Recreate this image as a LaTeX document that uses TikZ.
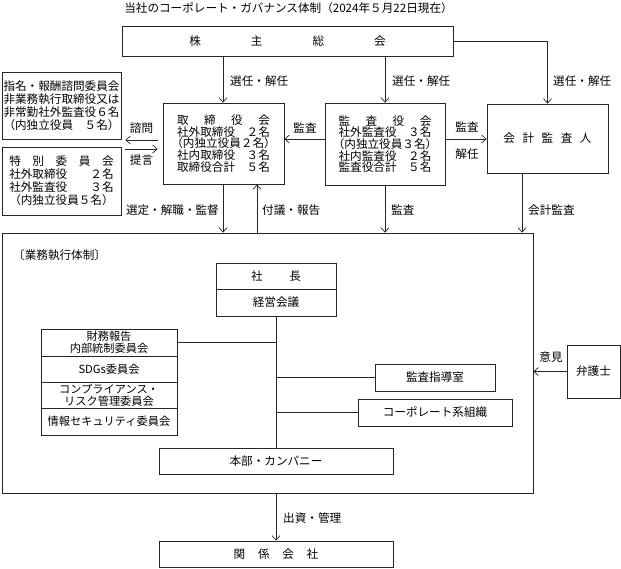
\documentclass[tikz,border=0pt]{standalone}
\usepackage{fontspec}
\setmainfont{Noto Sans CJK JP}
\usetikzlibrary{arrows.meta,calc}
\begin{document}
\begin{tikzpicture}[x=1pt,y=-1pt,
  font=\fontsize{11.6}{13}\selectfont,
  box/.style={draw=black!85, line width=0.7pt, rectangle, inner sep=0pt, align=center},
  lbl/.style={inner sep=0pt},
  arr/.style={draw=black!85, -{Straight Barb[length=4.5pt,width=8pt]}, line width=0.7pt},
  ln/.style={draw=black!85, line width=0.7pt}]
\useasboundingbox (0,0) rectangle (621,568);

\node[lbl] (title) at (288.5,8) {当社のコーポレート・ガバナンス体制（2024年５月22日現在）};

\node[box, minimum width=331pt, minimum height=30pt] (soukai) at (287.5,41)
  {株\hspace{50pt}主\hspace{50pt}総\hspace{50pt}会};

\node[box, minimum width=119pt, minimum height=67pt] (nom) at (61.5,105.5)
  {指名・報酬諮問委員会\\非業務執行取締役又は\\非常勤社外監査役６名\\\makebox[10em]{（内独立役員\hfill{}５名）}};

\node[box, minimum width=119pt, minimum height=68pt] (tok) at (61.5,181)
  {特\hspace{1em}別\hspace{1em}委\hspace{1em}員\hspace{1em}会\\\makebox[9em]{社外取締役\hfill{}２名}\\\makebox[9em]{社外監査役\hfill{}３名}\\（内独立役員５名）};

\node[box, minimum width=121pt, minimum height=81pt, font=\fontsize{11.6}{11.6}\selectfont] (board) at (223.5,143.5)
  {\makebox[8em]{取\hfill{}締\hfill{}役\hfill{}会}\\\makebox[8em]{社外取締役\hfill{}２名}\\\makebox[8em]{（内独立役員２名）}\\\makebox[8em]{社内取締役\hfill{}３名}\\\makebox[8em]{取締役合計\hfill{}５名}};

\node[box, minimum width=120pt, minimum height=82pt, font=\fontsize{11.6}{11.6}\selectfont] (audit) at (385,144)
  {\makebox[8em]{監\hfill{}査\hfill{}役\hfill{}会}\\\makebox[8em]{社外監査役\hfill{}３名}\\\makebox[8em]{（内独立役員３名）}\\\makebox[8em]{社内監査役\hfill{}２名}\\\makebox[8em]{監査役合計\hfill{}５名}};

\node[box, minimum width=121pt, minimum height=69pt] (kaikei) at (547.5,138.5)
  {会\hspace{0.65em}計\hspace{0.65em}監\hspace{0.65em}査\hspace{0.65em}人};

\node[box, minimum width=531pt, minimum height=260pt] (exec) at (267.5,363) {};
\node[lbl, anchor=west] (exlabel) at (13,255) {〔業務執行体制〕};

\node[box, minimum width=120pt, minimum height=26pt] (shacho) at (276,276) {社\hspace{2.3em}長};
\node[box, minimum width=120pt, minimum height=27pt] (keiei) at (276,302.5) {経営会議};

\begin{scope}[every node/.append style={font=\fontsize{11.2}{12}\selectfont}]
\node[box, minimum width=136pt, minimum height=27pt] (c1) at (109,342.5) {財務報告\\内部統制委員会};
\node[box, minimum width=136pt, minimum height=26pt] (c2) at (109,369) {SDGs委員会};
\node[box, minimum width=136pt, minimum height=26pt] (c3) at (109,395) {コンプライアンス・\\リスク管理委員会};
\node[box, minimum width=136pt, minimum height=27pt] (c4) at (109,421.5) {情報セキュリティ委員会};
\end{scope}

\node[box, minimum width=120pt, minimum height=27pt] (shido) at (435,377.5) {監査指導室};
\node[box, minimum width=154pt, minimum height=27pt] (corp) at (435,412.5) {コーポレート系組織};
\node[box, minimum width=53pt, minimum height=53pt] (bengo) at (593.5,371.5) {弁護士};
\node[box, minimum width=234pt, minimum height=26pt] (honbu) at (276,461) {本部・カンパニー};
\node[box, minimum width=234pt, minimum height=26pt] (kankei) at (276,554)
  {関\hspace{1.1em}係\hspace{1.1em}会\hspace{1.1em}社};

% connectors from shareholders
\draw[arr] (soukai.south -| 223,0) -- (board.north -| 223,0);
\draw[arr] (soukai.south -| audit.north) -- (audit.north);
\draw[arr] (soukai.east) -- (soukai.east -| kaikei.north) -- (kaikei.north);
\node[lbl, anchor=west] (l1) at (230,81) {選任・解任};
\node[lbl, anchor=west] (l2) at (392,81) {選任・解任};
\node[lbl, anchor=west] (l3) at (553,81) {選任・解任};

% committees <-> board
\draw[arr, shorten <=5pt, shorten >=4pt] (board.west |- 0,140) -- (nom.east |- 0,140);
\draw[arr, shorten <=4pt, shorten >=5pt] (nom.east |- 0,149) -- (board.west |- 0,149);
\node[lbl] (l4) at (141.5,128) {諮問};
\node[lbl] (l5) at (141.5,160) {提言};

% audit connectors
\draw[arr] (audit.west |- 0,139) -- (board.east |- 0,139);
\node[lbl] (l6) at (305,128) {監査};
\draw[arr] (audit.east |- 0,139) -- (kaikei.west |- 0,139);
\node[lbl] (l7) at (467,127) {監査};
\node[lbl] (l8) at (467,154) {解任};

% to executive system
\draw[arr] (board.south -| 223,0) -- (exec.north -| 223,0);
\draw[arr] (exec.north -| 257,0) -- (board.south -| 257,0);
\draw[arr] (audit.south) -- (exec.north -| audit.south);
\draw[arr] (kaikei.south -| 522,0) -- (exec.north -| 522,0);
\node[lbl, anchor=east] (l9) at (219,210) {選定・解職・監督};
\node[lbl, anchor=west] (l10) at (262,210) {付議・報告};
\node[lbl, anchor=west] (l11) at (391,210) {監査};
\node[lbl, anchor=west] (l12) at (528,210) {会計監査};

% internal structure
\draw[ln] (keiei.south) -- (honbu.north);
\draw[ln] (c1.east) -- (c1.east -| keiei.south);
\draw[ln] (keiei.south |- shido.west) -- (shido.west);
\draw[ln] (keiei.south |- corp.west) -- (corp.west);

% lawyer
\draw[arr] (bengo.west) -- (bengo.west -| exec.east);
\node[lbl] (l13) at (551,357) {意見};

% related companies
\draw[arr] (exec.south -| kankei.north) -- (kankei.north);
\node[lbl, anchor=west] (l14) at (283,518) {出資・管理};
\end{tikzpicture}
\end{document}
